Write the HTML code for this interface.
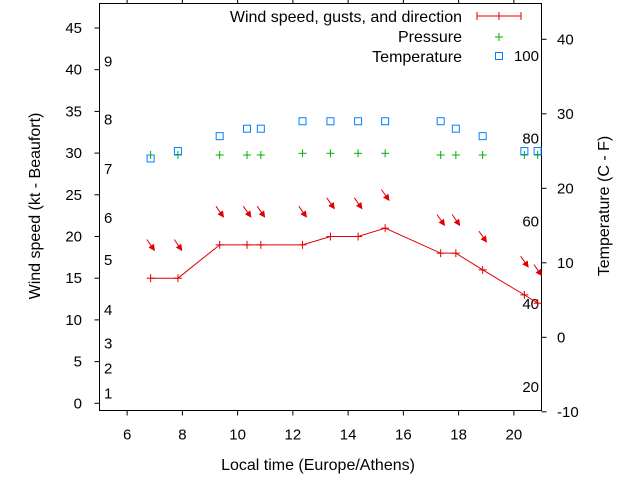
<!DOCTYPE html>
<html><head><meta charset="utf-8"><style>
html,body{margin:0;padding:0;background:#fff;}
svg{display:block;font-family:"Liberation Sans",sans-serif;}
</style></head><body>
<svg id="chart" width="640" height="480" viewBox="0 0 640 480">
<text x="318" y="470" font-size="16" text-anchor="middle">Local time (Europe/Athens)</text>
<text transform="translate(40,206) rotate(-90)" font-size="16" text-anchor="middle">Wind speed (kt - Beaufort)</text>
<text transform="translate(609,206) rotate(-90)" font-size="16" text-anchor="middle">Temperature (C - F)</text>
<g id="axes"></g>
<g id="marks"></g>
<g font-size="16">
<text x="462" y="22" text-anchor="end">Wind speed, gusts, and direction</text>
<g stroke="#e00000" stroke-width="1"><line x1="477" y1="16" x2="521" y2="16"/><line x1="477" y1="12" x2="477" y2="20"/><line x1="521" y1="12" x2="521" y2="20"/><line x1="499" y1="12" x2="499" y2="20"/></g>
<text x="462" y="42" text-anchor="end">Pressure</text>
<g stroke="#00b000"><line x1="495" y1="37" x2="503" y2="37"/><line x1="499" y1="33" x2="499" y2="41"/></g>
<text x="462" y="62" text-anchor="end">Temperature</text>
<rect x="495.5" y="52.5" width="7" height="7" fill="none" stroke="#0080ff"/>
</g>
</svg>
<script>
const hours=[6.85,7.84,9.35,10.34,10.84,12.35,13.36,14.36,15.34,17.35,17.9,18.87,20.38,20.86];
const windKt=[15,15,19,19,19,19,20,20,21,18,18,16,13,12];
const gustKt=[19,19,23,23,23,23,24,24,25,22,22,20,17,16];
const dirDeg=[325,325,325,325,325,325,325,325,325,325,325,325,325,325];
const tempC=[24,25,27,28,28,29,29,29,29,29,28,27,25,25];
const pressureHpa=[1013,1013,1013,1013,1013,1014,1014,1014,1014,1013,1013,1013,1013,1013];
const xTicks=[6,8,10,12,14,16,18,20];
const yTicks=[0,5,10,15,20,25,30,35,40,45];
const y2Ticks=[-10,0,10,20,30,40];
const fLabels=[20,40,60,80,100];
const beaufort=[1,2,3,4,5,6,7,8,9];
const beaufortKt=[1.2,4.2,7.2,11.2,17.2,22.2,28.1,34,41];

const L=99.5,R=541.5,T=3.5,B=410.5;
const X=h=>L+(h-5)*(R-L)/16;
const Y=k=>403.3-k*8.34;
const Y2=c=>337.3-c*7.45;
const YP=p=>155-(p-1013)*1.7;
const NS="http://www.w3.org/2000/svg";
function mk(tag,at,parent){const e=document.createElementNS(NS,tag);for(const k in at)e.setAttribute(k,at[k]);parent.appendChild(e);return e;}
const ax=document.getElementById('axes'),mg=document.getElementById('marks');
const frame=mk('rect',{x:L,y:T,width:R-L,height:B-T,fill:'none',stroke:'#000'},ax);


xTicks.forEach(t=>{const x=X(t);
 mk('line',{x1:x,y1:B,x2:x,y2:B+5,stroke:'#000'},ax);
 mk('line',{x1:x,y1:T,x2:x,y2:T-4,stroke:'#000'},ax);
 const tx=mk('text',{x:x,y:B+29,'font-size':15,'text-anchor':'middle'},ax);tx.textContent=t;
 
 });
yTicks.forEach(t=>{const y=Y(t);
 mk('line',{x1:L,y1:y,x2:L-5,y2:y,stroke:'#000'},ax);
 const tx=mk('text',{x:82,y:y+5,'font-size':15,'text-anchor':'end'},ax);tx.textContent=t;
 
 });
y2Ticks.forEach(t=>{const y=Y2(t);
 mk('line',{x1:R,y1:y,x2:R+5,y2:y,stroke:'#000'},ax);
 const tx=mk('text',{x:557,y:y+5,'font-size':15,'text-anchor':'start'},ax);tx.textContent=t;
 
 });
fLabels.forEach(f=>{const y=Y2((f-32)*5/9);
 const tx=mk('text',{x:539,y:y+5,'font-size':15,'text-anchor':'end'},ax);tx.textContent=f;
 
 });
beaufort.forEach((b,i)=>{const y=Y(beaufortKt[i]);
 const tx=mk('text',{x:104,y:y+5,'font-size':15},ax);tx.textContent=b;
 
 });
const ln=mk('polyline',{points:hours.map((h,i)=>X(h)+','+Y(windKt[i])).join(' '),fill:'none',stroke:'#e00000','stroke-width':1},mg);


hours.forEach((h,i)=>{const x=X(h),y=Y(windKt[i]);
 const g=mk('g',{stroke:'#e00000'},mg);
 
 
 mk('line',{x1:x-4,y1:y,x2:x+4,y2:y},g);mk('line',{x1:x,y1:y-4,x2:x,y2:y+4},g);
 const cy=Y(gustKt[i]);const a=(dirDeg[i])*Math.PI/180;
 const dx=-Math.sin(a)*6.5,dy=Math.cos(a)*6.5;
 const x1=x-dx,y1=cy-dy,x2=x+dx,y2=cy+dy;
 const ar=mk('g',{stroke:'#e00000',fill:'#e00000'},mg);
 
 
 mk('line',{x1:x1,y1:y1,x2:x2,y2:y2},ar);
 const ux=dx/6.5,uy=dy/6.5;
 const bx=x2-ux*5,by=y2-uy*5;
 mk('polygon',{points:`${x2},${y2} ${bx-uy*2.5},${by+ux*2.5} ${bx+uy*2.5},${by-ux*2.5}`},ar);
 const py=YP(pressureHpa[i]);
 const pg=mk('g',{stroke:'#00b000'},mg);
 
 
 mk('line',{x1:x-4,y1:py,x2:x+4,y2:py},pg);mk('line',{x1:x,y1:py-4,x2:x,y2:py+4},pg);
 const ty=Y2(tempC[i]);
 const r=mk('rect',{x:x-3.5,y:ty-3.5,width:7,height:7,fill:'none',stroke:'#0080ff'},mg);
 
 
});
</script>
</body></html>
